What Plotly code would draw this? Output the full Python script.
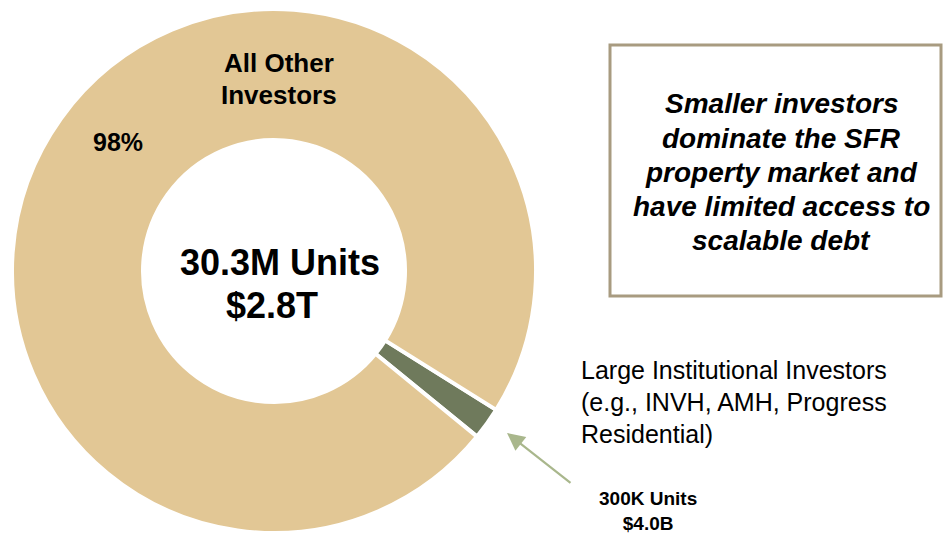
import plotly.graph_objects as go

# ---- data ----
segment_labels = ["Large Institutional Investors", "All Other Investors"]
segment_share = [2, 98]  # percent of SFR units
segment_colors = ["#6F7A5C", "#E2C795"]
center_lines = ["30.3M Units", "$2.8T"]
small_lines = ["300K Units", "$4.0B"]
box_lines = ["Smaller investors", "dominate the SFR", "property market and",
             "have limited access to", "scalable debt"]
inst_lines = ["Large Institutional Investors", "(e.g., INVH, AMH, Progress", "Residential)"]

W, H = 944, 533
FONT = "Liberation Sans, Arial, sans-serif"


def px(x):
    return x / W


def py(y):
    return 1 - y / H


fig = go.Figure()
fig.add_trace(go.Pie(
    labels=segment_labels,
    values=segment_share,
    marker=dict(colors=segment_colors, line=dict(color="white", width=4)),
    hole=0.5,
    sort=False,
    direction="clockwise",
    rotation=122,
    textinfo="none",
    hoverinfo="label+percent",
    showlegend=False,
    domain=dict(x=[px(12), px(536)], y=[0, py(9)]),
))

ann = []
# All Other Investors label
ann.append(dict(x=px(279), y=py(63), text="<b>All Other</b>", font=dict(size=26)))
ann.append(dict(x=px(279), y=py(95), text="<b>Investors</b>", font=dict(size=26)))
total = sum(segment_share)
ann.append(dict(x=px(118), y=py(142), text="<b>%d%%</b>" % round(100 * segment_share[1] / total),
                font=dict(size=25)))
# center text
ann.append(dict(x=px(280), y=py(262), text="<b>%s</b>" % center_lines[0], font=dict(size=36)))
ann.append(dict(x=px(272), y=py(305), text="<b>%s</b>" % center_lines[1], font=dict(size=36)))
# box text
for i, t in enumerate(box_lines):
    ann.append(dict(x=px(781), y=py(104 + 34.2 * i), text="<b><i>%s</i></b>" % t, font=dict(size=28)))
# institutional text
for i, t in enumerate(inst_lines):
    ann.append(dict(x=px(579), y=py(370 + 32 * i), text=t, xanchor="left", font=dict(size=25)))
# small numbers
ann.append(dict(x=px(648), y=py(511), text="<b>%s</b>" % "<br>".join(small_lines), font=dict(size=19)))

for a in ann:
    a.setdefault("xanchor", "center")
    a.update(xref="paper", yref="paper", yanchor="middle", showarrow=False)
    a["font"].update(family=FONT, color="#000000")

# arrow
ann.append(dict(x=px(507), y=py(433), xref="paper", yref="paper", text="", showarrow=True,
                ax=65, ay=51, arrowhead=2, arrowsize=1.6, arrowwidth=2.2,
                arrowcolor="#A9B78C", standoff=0))

fig.update_layout(
    width=W, height=H,
    margin=dict(l=0, r=0, t=0, b=0),
    paper_bgcolor="white", plot_bgcolor="white",
    annotations=ann,
    shapes=[dict(type="rect", xref="paper", yref="paper",
                 x0=px(610), x1=px(941), y0=py(296), y1=py(45),
                 line=dict(color="#A89B80", width=3), fillcolor="rgba(0,0,0,0)")],
)

fig.write_html("out.html", config={"displayModeBar": False},
               post_script="document.body.style.margin='0';document.body.style.overflow='hidden';")
